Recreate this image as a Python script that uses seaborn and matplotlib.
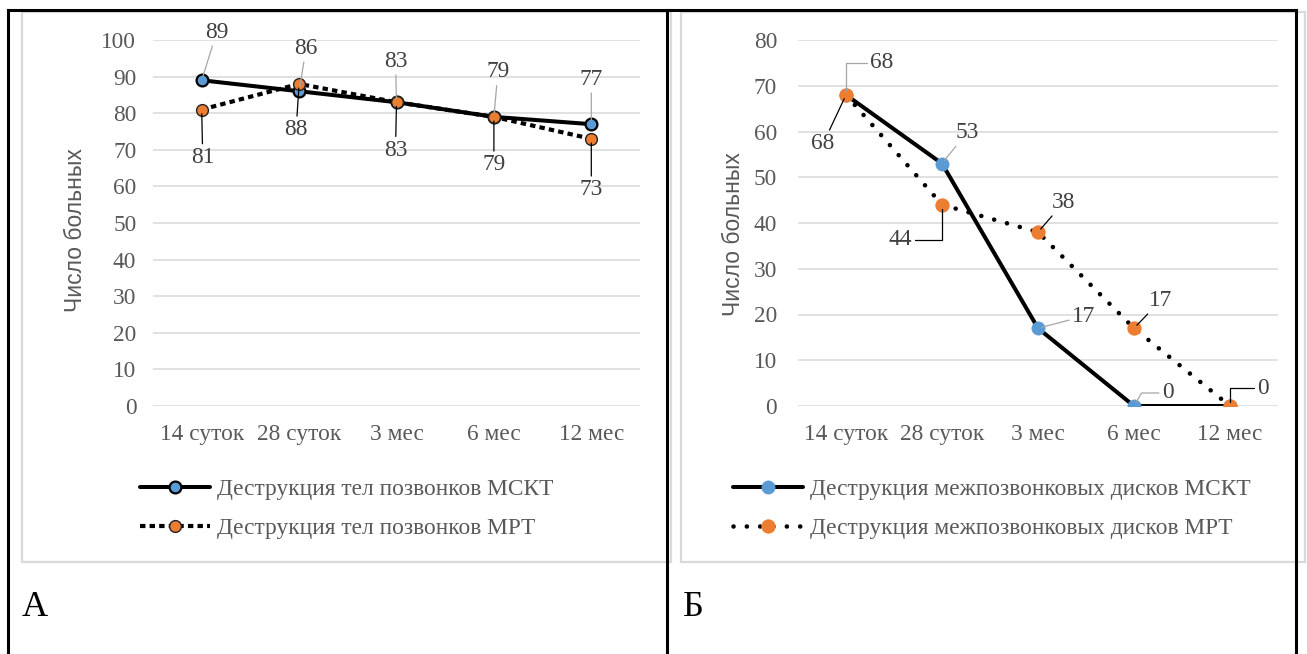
import numpy as np
import pandas as pd
import matplotlib
matplotlib.use("Agg")
import matplotlib.pyplot as plt
from matplotlib.lines import Line2D
from matplotlib.patches import Rectangle
import seaborn as sns

# ---------------- data ----------------
categories = ["14 суток", "28 суток", "3 мес", "6 мес", "12 мес"]

a_msct = [89, 86, 83, 79, 77]
a_mrt = [81, 88, 83, 79, 73]
a_msct_label = "Деструкция тел позвонков МСКТ"
a_mrt_label = "Деструкция тел позвонков МРТ"

b_msct = [68, 53, 17, 0, 0]
b_mrt = [68, 44, 38, 17, 0]
b_msct_label = "Деструкция межпозвонковых дисков МСКТ"
b_mrt_label = "Деструкция межпозвонковых дисков МРТ"

y_label = "Число больных"
a_ticks = [0, 10, 20, 30, 40, 50, 60, 70, 80, 90, 100]
b_ticks = [0, 10, 20, 30, 40, 50, 60, 70, 80]

# ---------------- style ----------------
sns.set_theme(style="white")
plt.rcParams["font.family"] = ["Liberation Serif", "DejaVu Serif"]

W, H = 1307, 654
BLUE = "#5B9BD5"
ORANGE = "#ED7D31"
GRID = "#D9D9D9"
TXT = "#595959"
LBL = "#404040"
FS = 16.8

fig = plt.figure(figsize=(W / 100, H / 100), dpi=100)


def fx(px):
    return px / W


def fy(py):
    return 1 - py / H


def axes_px(x0, x1, y0, y1):
    return fig.add_axes([fx(x0), fy(y1), fx(x1) - fx(x0), fy(y0) - fy(y1)])


# table borders and chart frames
for (x0, y0, x1, y1) in [(8, 10, 1296, 10), (8, 10, 8, 654), (667, 10, 667, 654), (1296, 10, 1296, 654)]:
    fig.add_artist(Line2D([fx(x0), fx(x1)], [fy(y0), fy(y1)], color="black", lw=2.2,
                          transform=fig.transFigure, solid_capstyle="projecting"))
for (x0, y0, x1, y1) in [(22, 12, 671, 562), (681, 12, 1305, 562)]:
    fig.add_artist(Rectangle((fx(x0), fy(y1)), fx(x1) - fx(x0), fy(y0) - fy(y1),
                             fill=False, edgecolor=GRID, lw=1.6, transform=fig.transFigure))

x = np.arange(len(categories))


def style_axes(ax, ticks, ymax, ypad):
    ax.set_xlim(-0.5, len(categories) - 0.5)
    ax.set_ylim(0, ymax)
    ax.set_yticks(ticks)
    ax.set_yticklabels([str(t) for t in ticks])
    ax.set_xticks(x)
    ax.set_xticklabels(categories)
    ax.yaxis.grid(True, color=GRID, lw=1.1)
    ax.xaxis.grid(False)
    ax.set_axisbelow(True)
    for s in ax.spines.values():
        s.set_visible(False)
    ax.tick_params(axis="x", length=0, pad=13, labelsize=FS, colors=TXT)
    ax.tick_params(axis="y", length=0, pad=ypad, labelsize=FS, colors=TXT)
    ax.set_facecolor("none")
    ax.set_xlabel("")


def annotate(ax, xi, yi, text, dx, dy, color, conn="arc3"):
    ax.annotate(text, xy=(xi, yi), xytext=(dx, dy), textcoords="offset pixels",
                ha="center", va="center", fontsize=FS, color=LBL,
                arrowprops=dict(arrowstyle="-", color=color, lw=0.9,
                                shrinkA=0, shrinkB=3, connectionstyle=conn),
                annotation_clip=False, zorder=6)


# ---------------- chart A ----------------
axA = axes_px(153, 640, 40, 406)
dfA = pd.DataFrame({"x": x, "msct": a_msct, "mrt": a_mrt})
sns.lineplot(data=dfA, x="x", y="msct", ax=axA, color="black", lw=2.9,
             marker="o", markersize=8.5, markerfacecolor=BLUE,
             markeredgecolor="black", markeredgewidth=1.6,
             label=a_msct_label, zorder=3)
sns.lineplot(data=dfA, x="x", y="mrt", ax=axA, color="black", lw=3.0,
             linestyle=(0, (1.3, 1.0)), dash_capstyle="butt",
             marker="o", markersize=8.5, markerfacecolor=ORANGE,
             markeredgecolor="#222222", markeredgewidth=1.0,
             label=a_mrt_label, zorder=4)
style_axes(axA, a_ticks, 100, 12)
axA.set_ylabel(y_label, family=["Liberation Sans", "DejaVu Sans"], fontsize=16.5, color=TXT)
axA.yaxis.label.set_va("center")
axA.yaxis.set_label_coords(fx(76 - 153) / fx(487), 0.48)

a_msct_off = [(15, 48), (7, 43), (-1, 41), (4, 45), (0, 45)]
a_mrt_off = [(1, -48), (-3, -46), (-1, -48), (0, -48), (0, -51)]
for i in range(len(categories)):
    annotate(axA, x[i], a_msct[i], str(a_msct[i]), *a_msct_off[i], color="#A6A6A6")
    annotate(axA, x[i], a_mrt[i], str(a_mrt[i]), *a_mrt_off[i], color="black")

hA, lA = axA.get_legend_handles_labels()
order = [lA.index(a_msct_label), lA.index(a_mrt_label)]
axA.legend([hA[i] for i in order], [lA[i] for i in order],
           loc="center left", bbox_to_anchor=(fx(140), fy(509)), bbox_transform=fig.transFigure,
           frameon=False, fontsize=FS, labelcolor=TXT, handlelength=3.0, handletextpad=0.3,
           labelspacing=0.75, borderpad=0, borderaxespad=0)

# ---------------- chart B ----------------
axB = axes_px(798, 1278, 40, 406)
dfB = pd.DataFrame({"x": x, "msct": b_msct, "mrt": b_mrt})
sns.lineplot(data=dfB, x="x", y="msct", ax=axB, color="black", lw=2.9,
             marker="o", markersize=9.5, markerfacecolor=BLUE,
             markeredgecolor=BLUE, markeredgewidth=0.5,
             label=b_msct_label, zorder=3)
sns.lineplot(data=dfB, x="x", y="mrt", ax=axB, color="black", lw=3.3,
             linestyle=(0, (0.01, 2.9)), dash_capstyle="round",
             marker="o", markersize=9.5, markerfacecolor=ORANGE,
             markeredgecolor=ORANGE, markeredgewidth=0.8,
             label=b_mrt_label, zorder=4)
style_axes(axB, b_ticks, 80, 15)
axB.set_ylabel(y_label, family=["Liberation Sans", "DejaVu Sans"], fontsize=16.5, color=TXT)
axB.yaxis.label.set_va("center")
axB.yaxis.set_label_coords(fx(733 - 798) / fx(480), 0.47)

b_msct_off = [(36, 32), (25, 31), (46, 12), (34, 13), None]
b_msct_conn = ["angle,angleA=0,angleB=90,rad=0", "arc3", "arc3", "angle,angleA=0,angleB=60,rad=0", None]
b_mrt_off = [(-23, -49), (-42, -35), (26, 30), (27, 28), (33, 18)]
b_mrt_conn = ["arc3", "angle,angleA=0,angleB=90,rad=0", "arc3", "arc3", "angle,angleA=0,angleB=90,rad=0"]
for i in range(len(categories)):
    if b_msct_off[i] is not None:
        annotate(axB, x[i], b_msct[i], str(b_msct[i]), *b_msct_off[i], color="#A6A6A6",
                 conn=b_msct_conn[i])
    annotate(axB, x[i], b_mrt[i], str(b_mrt[i]), *b_mrt_off[i], color="black",
             conn=b_mrt_conn[i])

hB, lB = axB.get_legend_handles_labels()
order = [lB.index(b_msct_label), lB.index(b_mrt_label)]
axB.legend([hB[i] for i in order], [lB[i] for i in order],
           loc="center left", bbox_to_anchor=(fx(733), fy(509)), bbox_transform=fig.transFigure,
           frameon=False, fontsize=FS, labelcolor=TXT, handlelength=3.0, handletextpad=0.3,
           labelspacing=0.75, borderpad=0, borderaxespad=0)

# panel letters
fig.text(fx(22), fy(607), "А", fontsize=26, color="black", ha="left", va="center")
fig.text(fx(683), fy(607), "Б", fontsize=26, color="black", ha="left", va="center")

fig.savefig("out.png", dpi=100)
